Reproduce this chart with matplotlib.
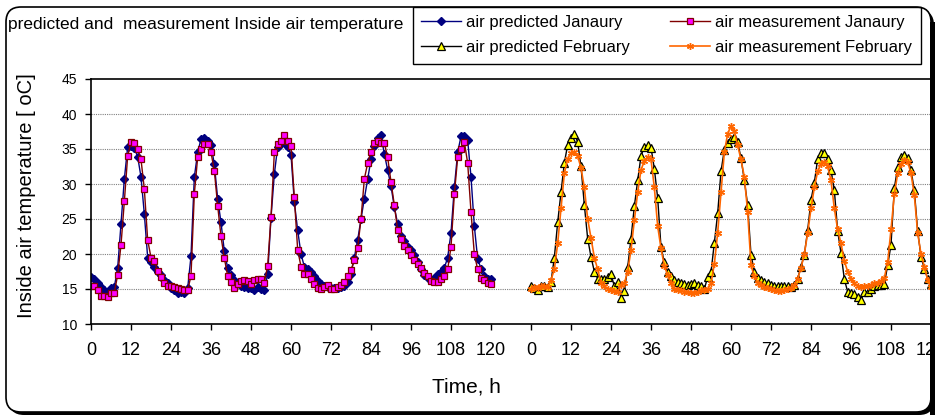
import matplotlib
matplotlib.use('Agg')
import matplotlib.pyplot as plt
from matplotlib.patches import FancyBboxPatch, Rectangle
import numpy as np

plt.rcParams['font.family'] = ['Liberation Sans', 'DejaVu Sans']

# hourly readings, 0..120 h for each month
hours = list(range(0, 121))
feb_offset = 132  # February block starts one tick after January's 120

jan_predicted = [
    16.7, 16.4, 15.8, 15.3, 14.9, 14.6, 15.1, 15.3, 18.0, 24.3, 30.7, 35.3,
    35.4, 35.1, 33.9, 31.0, 25.7, 19.5, 18.9, 18.2, 17.5, 17.0, 16.3, 15.8,
    15.1, 14.8, 14.5, 14.6, 14.4, 15.1, 19.7, 31.0, 34.5, 36.4, 36.5, 36.2,
    35.6, 32.8, 27.9, 24.5, 20.4, 18.0, 17.0, 16.3, 15.9, 15.5, 15.3, 15.1,
    15.1, 14.9, 15.3, 15.0, 14.9, 17.1, 25.2, 31.4, 35.3, 35.9, 35.8, 35.3,
    34.2, 27.4, 23.4, 20.0, 18.2, 17.8, 17.4, 16.8, 16.2, 15.7, 15.4, 15.3,
    15.1, 15.2, 15.1, 15.3, 15.5, 16.0, 17.2, 19.5, 22.0, 25.0, 27.9, 30.7,
    33.5, 35.4, 36.6, 37.0, 34.3, 32.0, 29.7, 26.7, 24.3, 22.5, 21.8, 21.0,
    20.6, 19.8, 18.9, 17.8, 17.0, 16.6, 16.3, 16.6, 17.1, 17.5, 18.0, 19.5,
    23.0, 29.5, 34.5, 36.8, 36.9, 36.3, 31.0, 24.0, 19.3, 17.9, 16.9, 16.5,
    16.4]

jan_measured = [
    15.4, 15.4, 14.8, 14.0, 14.0, 13.8, 14.5, 14.5, 17.0, 21.3, 27.5, 34.0,
    36.0, 35.8, 35.0, 33.5, 29.3, 22.0, 19.5, 19.0, 17.6, 16.7, 15.9, 15.5,
    15.4, 15.3, 15.1, 15.0, 14.9, 14.8, 16.9, 28.6, 33.8, 35.0, 35.7, 35.7,
    34.5, 31.9, 26.9, 22.5, 19.4, 16.9, 16.0, 15.1, 15.7, 16.2, 16.3, 16.2,
    15.7, 16.3, 16.4, 16.4, 15.9, 18.3, 25.3, 34.5, 35.7, 36.2, 37.0, 36.2,
    35.4, 28.1, 20.6, 18.2, 17.2, 17.2, 16.5, 15.7, 15.1, 15.0, 15.3, 15.6,
    15.0, 15.0, 15.3, 15.6, 16.0, 16.8, 17.7, 19.1, 20.9, 25.0, 30.7, 33.0,
    34.6, 35.8, 36.1, 35.9, 35.9, 33.8, 30.3, 27.0, 23.4, 22.1, 21.1, 20.6,
    19.9, 19.2, 18.6, 18.0, 17.3, 16.8, 16.2, 16.0, 16.0, 16.4, 16.9, 17.8,
    21.0, 28.5, 33.8, 35.0, 36.0, 33.0, 26.0, 20.0, 17.8, 16.6, 16.3, 15.9,
    15.7]

feb_predicted = [
    15.5, 15.2, 14.9, 15.5, 15.4, 15.3, 16.0, 19.5, 24.5, 28.8, 33.0, 35.6,
    36.5, 37.2, 36.0, 32.5, 27.0, 22.2, 19.6, 17.5, 16.5, 16.4, 16.4, 16.7,
    17.1, 15.4, 16.0, 13.7, 14.7, 18.1, 22.2, 26.8, 30.5, 34.0, 35.3, 35.5,
    35.2, 32.2, 28.0, 21.0, 18.8, 17.4, 16.8, 16.3, 16.0, 15.9, 15.7, 15.6,
    15.7, 15.8, 15.6, 15.4, 15.0, 16.7, 17.4, 21.6, 25.8, 31.8, 34.9, 35.8,
    36.4, 36.7, 36.0, 33.7, 30.5, 27.0, 19.9, 17.5, 16.6, 16.3, 16.0, 15.8,
    15.6, 15.5, 15.5, 15.5, 15.5, 15.4, 15.3, 15.6, 16.5, 18.2, 19.9, 23.4,
    27.7, 30.2, 33.6, 34.4, 34.4, 33.6, 32.0, 29.1, 23.3, 20.1, 16.4, 14.6,
    14.4, 14.3, 13.9, 13.4, 14.6, 14.6, 15.0, 15.5, 15.6, 15.6, 15.7, 18.4,
    21.3, 29.4, 32.4, 33.8, 34.1, 33.7, 32.0, 29.1, 23.3, 19.6, 17.9, 16.5,
    15.7]

feb_measured = [
    15.0, 15.3, 15.2, 15.5, 15.4, 15.3, 16.3, 17.8, 21.5, 26.5, 31.5, 33.6,
    34.4, 34.5, 34.0, 32.3, 29.5, 25.0, 22.3, 19.5, 17.8, 15.9, 15.4, 15.0,
    14.8, 14.7, 14.6, 15.6, 15.8, 17.5, 20.6, 24.8, 28.8, 32.0, 33.3, 33.9,
    33.5, 29.5, 24.0, 20.8, 18.3, 17.0, 15.8, 15.0, 14.9, 14.8, 14.6, 14.6,
    14.5, 14.4, 14.6, 14.8, 14.8, 15.0, 15.8, 18.6, 23.0, 28.8, 34.5, 37.2,
    38.3, 37.6, 35.5, 33.5, 31.0, 26.0, 18.4, 16.8, 15.9, 15.6, 15.3, 15.1,
    15.0, 14.9, 14.7, 14.7, 14.8, 15.0, 15.1, 15.6, 16.5, 18.0, 20.0, 23.0,
    26.5, 29.5, 31.8, 32.9, 33.2, 32.5, 30.5, 26.5, 23.5, 21.5, 19.0, 17.5,
    16.5, 15.8, 15.4, 15.3, 15.5, 15.4, 15.6, 15.8, 15.9, 16.1, 16.6, 18.8,
    23.5, 28.5, 31.5, 32.8, 33.4, 33.2, 31.5, 28.4, 23.0, 20.0, 18.2, 16.3,
    15.3]

xtick_labels = [str(h) for h in range(0, 121, 12)] * 2
yticks = [10, 15, 20, 25, 30, 35, 40, 45]

W, H = 940, 417
fig = plt.figure(figsize=(W / 100, H / 100), dpi=100)
fig.patch.set_facecolor('white')

# rounded chart frame with shadow (in inches)
box = 'round,pad=0,rounding_size=0.15'
shadow = FancyBboxPatch((0.09, 0.02), 9.25, 4.05, boxstyle=box, fc='black', ec='none',
                        transform=fig.dpi_scale_trans, zorder=-3)
face = FancyBboxPatch((0.06, 0.05), 9.25, 4.05, boxstyle=box, fc='white', ec='none',
                      transform=fig.dpi_scale_trans, zorder=-2)
outline = FancyBboxPatch((0.06, 0.05), 9.25, 4.05, boxstyle=box, fc='none', ec='black', lw=1.2,
                         transform=fig.dpi_scale_trans, zorder=20)
fig.add_artist(shadow)
fig.add_artist(face)
fig.add_artist(outline)
fig.add_artist(Rectangle((9.345, 0), 0.1, 4.17, fc='white', ec='none',
                         transform=fig.dpi_scale_trans, zorder=19))
fig.add_artist(Rectangle((9.30, 0.02), 0.045, 3.93, fc='black', ec='none',
                         transform=fig.dpi_scale_trans, zorder=19))

ax = fig.add_axes([91 / W, 1 - 324 / H, 840 / W, 245 / H])
ax.set_facecolor('white')

x_jan = np.array(hours)
x_feb = np.array(hours) + feb_offset

l1, = ax.plot(x_jan, jan_predicted, color='#000080', lw=1.0, marker='D', ms=4.2,
              mfc='#000080', mec='#000080', label='air predicted Janaury')
l2, = ax.plot(x_jan, jan_measured, color='#800000', lw=1.0, marker='s', ms=4.2,
              mfc='#FF00FF', mec='#800000', mew=0.9, label='air measurement Janaury')
l3, = ax.plot(x_feb, feb_predicted, color='black', lw=1.0, marker='^', ms=5.2,
              mfc='#FFFF00', mec='black', mew=0.9, label='air predicted February')
l4, = ax.plot(x_feb, feb_measured, color='#FF6600', lw=1.2, marker=(6, 2, 0), ms=5,
              mec='#FF6600', mew=1.0, label='air measurement February')

ax.set_xlim(0, 252)
ax.set_ylim(10, 45)
ax.set_xticks(np.arange(0, 253, 12))
ax.set_xticklabels(xtick_labels)
ax.set_yticks(yticks)
ax.tick_params(axis='x', direction='out', length=4, width=1, pad=9, labelsize=13)
ax.tick_params(axis='y', direction='out', length=4, width=1, pad=6, labelsize=10)
for ytick in yticks[1:-1]:
    ax.axhline(ytick, color='#808080', lw=0.8, ls=(0, (1, 1)), zorder=0.5)
for sp in ax.spines.values():
    sp.set_color('black')
    sp.set_linewidth(1.2)

fig.text(8 / W, 1 - 25 / H, 'predicted and  measurement Inside air temperature',
         fontsize=12.5, ha='left', va='center')
fig.text(27 / W, 1 - 196 / H, 'Inside air temperature [ oC]', fontsize=14.5,
         rotation=90, ha='center', va='center')
fig.text(466 / W, 1 - 387 / H, 'Time, h', fontsize=15, ha='center', va='center')

leg = fig.legend(handles=[l1, l3, l2, l4], ncol=2, loc='upper left',
                 bbox_to_anchor=(413 / W, 1 - 7 / H), bbox_transform=fig.transFigure,
                 fontsize=12, frameon=True, fancybox=False, framealpha=1,
                 edgecolor='black', borderpad=0.5, labelspacing=0.6,
                 handlelength=2.4, handletextpad=0.3, columnspacing=2.4, borderaxespad=0)
leg.get_frame().set_linewidth(1.0)

fig.savefig('out.png', dpi=100)
